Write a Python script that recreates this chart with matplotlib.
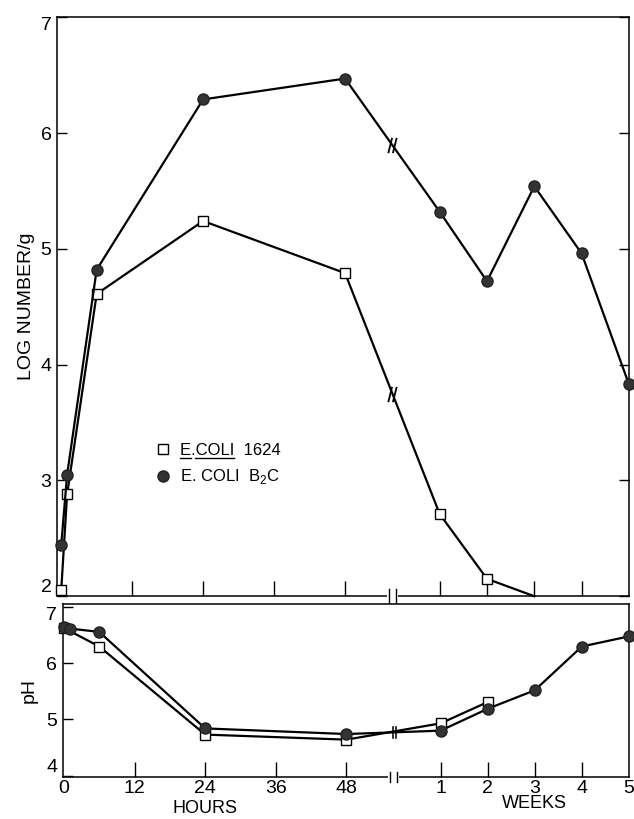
import numpy as np
import matplotlib
matplotlib.use('Agg')
import matplotlib.pyplot as plt
import matplotlib.transforms as mtransforms
from matplotlib.lines import Line2D
from matplotlib.path import Path

plt.rcParams['font.family'] = ['Liberation Sans', 'DejaVu Sans']
plt.rcParams['mathtext.fontset'] = 'custom'
plt.rcParams['mathtext.rm'] = 'Liberation Sans'

# time axis: hours 0-48, then a break, then weeks 1-5
BREAK_X = 56
WEEK_STEP = 8


def wk(w):
    return BREAK_X + WEEK_STEP * np.asarray(w, dtype=float)


# log number / g
hours_1624 = [0, 1, 6, 24, 48]
log_1624_h = [2.05, 2.88, 4.61, 5.24, 4.79]
weeks_1624 = [1, 2, 3]
log_1624_w = [2.71, 2.15, 2.0]

hours_b2c = [0, 1, 6, 24, 48]
log_b2c_h = [2.44, 3.05, 4.82, 6.29, 6.47]
weeks_b2c = [1, 2, 3, 4, 5]
log_b2c_w = [5.32, 4.72, 5.54, 4.96, 3.83]

# pH
ph_hours_1624 = [0, 6, 24, 48]
ph_1624_h = [6.63, 6.30, 4.73, 4.64]
ph_weeks_1624 = [1, 2]
ph_1624_w = [4.93, 5.31]

ph_hours_b2c = [0, 1, 6, 24, 48]
ph_b2c_h = [6.64, 6.62, 6.56, 4.84, 4.74]
ph_weeks_b2c = [1, 2, 3, 4, 5]
ph_b2c_w = [4.80, 5.19, 5.52, 6.30, 6.48]

hour_ticks = [12, 24, 36, 48]
week_ticks = [1, 2, 3, 4]
label_1624 = 'E.COLI  1624'
label_b2c = r'E. COLI  B$_2$C'
underlined = ['E', 'COLI']  # pieces of label_1624 that are underlined

fig = plt.figure(figsize=(6.34, 8.19), dpi=100)
ax1 = fig.add_axes([0.090, 0.272, 0.902, 0.707])
ax2 = fig.add_axes([0.099, 0.051, 0.893, 0.211])

sq = dict(marker='s', mfc='white', mec='black', ms=6.5, mew=1.0)
ci = dict(marker='o', mfc='#333333', mec='#222222', ms=8, mew=1.0)

# double slash marker for the broken curves
slash = Path([(-0.55, -1), (-0.05, 1), (0.05, -1), (0.55, 1)],
             [Path.MOVETO, Path.LINETO, Path.MOVETO, Path.LINETO])

# ---- top panel
x1 = np.concatenate([hours_1624, wk(weeks_1624)])
y1 = np.concatenate([log_1624_h, log_1624_w])
x2 = np.concatenate([hours_b2c, wk(weeks_b2c)])
y2 = np.concatenate([log_b2c_h, log_b2c_w])
ax1.plot(x1, y1, color='black', lw=1.6, markevery=list(range(len(x1) - 1)),
         clip_on=False, zorder=3, label=label_1624, **sq)
ax1.plot(x2, y2, color='black', lw=1.6, clip_on=False, zorder=4,
         label=label_b2c, **ci)

for xs, ys in [(x1, y1), (x2, y2)]:
    yb = np.interp(BREAK_X, xs, ys)
    ax1.plot([BREAK_X], [yb], marker=slash, ms=11, color='black',
             mew=1.3, zorder=5)

ax1.set_xlim(-0.7, 96)
ax1.set_ylim(2, 7)
ax1.set_yticks([2, 3, 4, 5, 6, 7])
ax1.set_xticks(list(hour_ticks) + list(wk(week_ticks)))
ax1.tick_params(axis='x', direction='in', length=11, width=1.0,
                labelbottom=False)
ax1.tick_params(axis='y', direction='in', length=7.5, width=1.0,
                right=True, labelsize=14, pad=4)
yl = ax1.get_yticklabels()
yl[0].set_va('bottom')
yl[-1].set_va('top')
ax1.set_ylabel('LOG NUMBER/g', fontsize=14)
ax1.yaxis.set_label_coords(-0.038, 0.5)

leg = ax1.legend(loc='upper left', bbox_to_anchor=(0.15, 0.29),
                 frameon=False, fontsize=12, handlelength=0.6,
                 handletextpad=0.7, labelspacing=0.55, numpoints=1)
for h in leg.legend_handles:
    h.set_linestyle('none')

# ---- bottom panel
p1x = np.concatenate([ph_hours_1624, wk(ph_weeks_1624)])
p1y = np.concatenate([ph_1624_h, ph_1624_w])
p2x = np.concatenate([ph_hours_b2c, wk(ph_weeks_b2c)])
p2y = np.concatenate([ph_b2c_h, ph_b2c_w])
ax2.plot(p1x, p1y, color='black', lw=1.6, clip_on=False, zorder=3, **sq)
ax2.plot(p2x, p2y, color='black', lw=1.6, clip_on=False, zorder=4, **ci)
yb = np.interp(BREAK_X, p2x, p2y)
ax2.plot([BREAK_X], [yb], marker=r'$||$', ms=9, color='black', mew=0.4,
         zorder=5)

ax2.set_xlim(-0.2, 96)
ax2.set_ylim(3.97, 7.05)
ax2.set_yticks([4, 5, 6, 7])
ax2.set_xticks([0] + list(hour_ticks) + list(wk(week_ticks)) + [wk(5)])
ax2.set_xticklabels(['0'] + [str(h) for h in hour_ticks]
                    + [str(w) for w in week_ticks] + ['5'])
ax2.tick_params(axis='x', direction='in', length=11, width=1.0,
                labelsize=14, pad=2)
ax2.tick_params(axis='y', direction='in', length=7.5, width=1.0,
                labelsize=14, pad=4)
ax2.xaxis.get_major_ticks()[0].tick1line.set_visible(False)
ax2.xaxis.get_major_ticks()[-1].tick1line.set_visible(False)
yl = ax2.get_yticklabels()
yl[0].set_va('bottom')
yl[-1].set_va('top')
ax2.set_ylabel('pH', fontsize=14)
ax2.yaxis.set_label_coords(-0.044, 0.5)

trans = mtransforms.blended_transform_factory(ax2.transData, fig.transFigure)
ax2.text(24, 0.003, 'HOURS', transform=trans, ha='center', va='bottom',
         fontsize=13)
ax2.text(wk(3), 0.008, 'WEEKS', transform=trans, ha='center', va='bottom',
         fontsize=13)

# axis breaks on the bottom spines
for ax in (ax1, ax2):
    for sp in ax.spines.values():
        sp.set_linewidth(1.1)
    bt = mtransforms.blended_transform_factory(ax.transData, ax.transAxes)
    ax.plot([BREAK_X - 0.6, BREAK_X + 0.6], [0, 0], color='white', lw=3,
            transform=bt, clip_on=False, zorder=6)
    for dx in (-0.6, 0.6):
        ax.plot([BREAK_X + dx] * 2, [-0.012, 0.012] if ax is ax1 else
                [-0.03, 0.03], color='black', lw=1.0, transform=bt,
                clip_on=False, zorder=7)

# underline parts of the first legend label (mathtext has no \underline)
fig.canvas.draw()
renderer = fig.canvas.get_renderer()
txt = leg.get_texts()[0]
bb = txt.get_window_extent(renderer)
prop = txt.get_fontproperties()


def text_w(s):
    w, _, _ = renderer.get_text_width_height_descent(s, prop, ismath=False)
    return w


s = txt.get_text()
start = 0
for piece in underlined:
    i = s.index(piece, start)
    x0 = bb.x0 + text_w(s[:i]) if i else bb.x0
    x1p = bb.x0 + text_w(s[:i + len(piece)])
    start = i + len(piece)
    y = bb.y0 + 0.5
    fig.add_artist(Line2D([x0, x1p], [y, y], color='black', lw=1.0,
                          transform=None))

fig.savefig('out.png', dpi=100)
